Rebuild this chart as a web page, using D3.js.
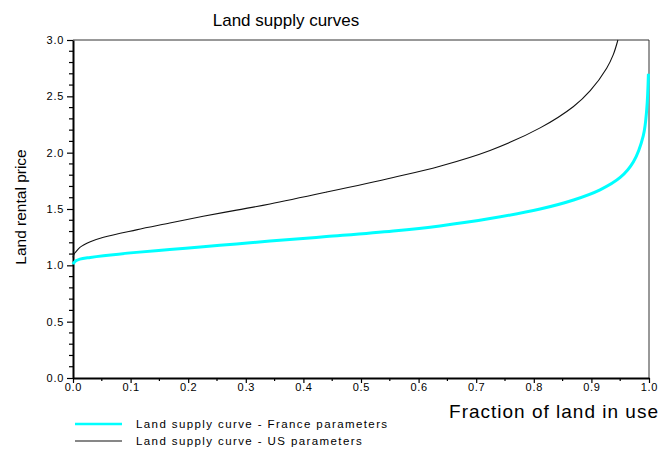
<!DOCTYPE html>
<html><head><meta charset="utf-8">
<script src="https://cdn.jsdelivr.net/npm/d3@7"></script>
<style>body{margin:0;background:#fff;} text{font-family:"Liberation Sans",Arial,sans-serif;}</style>
</head><body>
<svg id="c" width="661" height="450"></svg>
<script>
const franceX = [0, 0.002, 0.005, 0.012, 0.03, 0.053, 0.11, 0.168, 0.226, 0.284, 0.342, 0.44, 0.556, 0.637, 0.724, 0.811, 0.869, 0.915, 0.95, 0.973, 0.99, 0.996, 0.999];
const franceY = [1.01, 1.025, 1.04, 1.055, 1.07, 1.085, 1.115, 1.14, 1.165, 1.19, 1.215, 1.255, 1.305, 1.35, 1.415, 1.50, 1.58, 1.67, 1.78, 1.92, 2.15, 2.38, 2.70];
const usX = [0, 0.002, 0.005, 0.012, 0.03, 0.053, 0.11, 0.168, 0.226, 0.284, 0.342, 0.44, 0.556, 0.637, 0.724, 0.811, 0.869, 0.898, 0.9265, 0.938, 0.946];
const usY = [1.07, 1.10, 1.12, 1.16, 1.21, 1.25, 1.315, 1.375, 1.435, 1.49, 1.545, 1.65, 1.78, 1.88, 2.02, 2.22, 2.41, 2.55, 2.75, 2.87, 3.0];
const xTicks = [0, 0.1, 0.2, 0.3, 0.4, 0.5, 0.6, 0.7, 0.8, 0.9, 1.0];
const yTicks = [0, 0.5, 1.0, 1.5, 2.0, 2.5, 3.0];
const seriesNames = ["Land supply curve - France parameters", "Land supply curve - US parameters"];
const titleText = "Land supply curves";
const xLabel = "Fraction of land in use";
const yLabel = "Land rental price";

const svg = d3.select("#c");
const x = d3.scaleLinear().domain([0, 1]).range([73, 649]);
const y = d3.scaleLinear().domain([0, 3]).range([378, 40]);

const xMinor = d3.range(0, 1.0001, 0.05).filter(v => Math.abs(v*10 - Math.round(v*10)) > 1e-6);
const yMinor = d3.range(0, 3.0001, 0.1).filter(v => Math.abs(v*2 - Math.round(v*2)) > 1e-6);

svg.append("line").attr("x1", x(0)).attr("x2", x(1)).attr("y1", y(3)).attr("y2", y(3)).attr("stroke", "#333").attr("stroke-width", 1);
svg.append("line").attr("x1", x(1)).attr("x2", x(1)).attr("y1", y(0)).attr("y2", y(3)).attr("stroke", "#333").attr("stroke-width", 1);

const gx = svg.append("g").attr("transform", `translate(0,${y(0)})`)
  .call(d3.axisBottom(x).tickValues(xTicks).tickFormat(d3.format(".1f")).tickSize(5).tickSizeOuter(0));
gx.select(".domain").attr("stroke", "#000").attr("stroke-width", 2);
gx.selectAll(".tick line").attr("stroke-width", 1.2);
gx.selectAll(".tick text").attr("font-size", 11).attr("letter-spacing", 0.7).attr("y", 5).attr("fill", "#000")
  .style("font-family", '"Liberation Sans",Arial,sans-serif');
gx.selectAll(".minor").data(xMinor).enter().append("line").attr("class", "minor")
  .attr("x1", d => x(d)).attr("x2", d => x(d)).attr("y1", 0).attr("y2", 3).attr("stroke", "#000").attr("stroke-width", 1.2);

const gy = svg.append("g").attr("transform", `translate(${x(0)},0)`)
  .call(d3.axisLeft(y).tickValues(yTicks).tickFormat(d3.format(".1f")).tickSize(6).tickSizeOuter(0));
gy.select(".domain").attr("stroke", "#000").attr("stroke-width", 2);
gy.selectAll(".tick line").attr("stroke-width", 1.2);
gy.selectAll(".tick text").attr("font-size", 11).attr("letter-spacing", 0.7).attr("x", -9).attr("fill", "#000")
  .style("font-family", '"Liberation Sans",Arial,sans-serif');
gy.selectAll(".minor").data(yMinor).enter().append("line").attr("class", "minor")
  .attr("x1", -4).attr("x2", 0).attr("y1", d => y(d)).attr("y2", d => y(d)).attr("stroke", "#000").attr("stroke-width", 1.2);

const line = d3.line().x(d => x(d[0])).y(d => y(d[1])).curve(d3.curveCatmullRom.alpha(0.5));
const usData = usX.map((v, i) => [v, usY[i]]);
const frData = franceX.map((v, i) => [v, franceY[i]]);
svg.append("path").datum(usData).attr("d", line).attr("fill", "none").attr("stroke", "#111").attr("stroke-width", 1.1);
svg.append("path").datum(frData).attr("d", line).attr("fill", "none").attr("stroke", "#00ffff").attr("stroke-width", 3);

svg.append("text").attr("x", 286).attr("y", 26).attr("text-anchor", "middle").attr("font-size", 17).attr("fill", "#000").text(titleText);
svg.append("text").attr("transform", "translate(26,207) rotate(-90)").attr("text-anchor", "middle").attr("font-size", 15.5).attr("fill", "#000").text(yLabel);
svg.append("text").attr("x", 659).attr("y", 418).attr("text-anchor", "end").attr("font-size", 19).attr("letter-spacing", 1).attr("fill", "#000").text(xLabel);

const legColors = ["#00ffff", "#111"];
const legWidths = [2.5, 1.1];
const legY = [424, 441];
seriesNames.forEach((name, i) => {
  svg.append("line").attr("x1", 75).attr("x2", 122).attr("y1", legY[i]).attr("y2", legY[i])
    .attr("stroke", legColors[i]).attr("stroke-width", legWidths[i]);
  svg.append("text").attr("x", 136).attr("y", legY[i] + 4).attr("font-size", 11.5).attr("letter-spacing", 1.4).attr("fill", "#000").text(name);
});
</script>
</body></html>
